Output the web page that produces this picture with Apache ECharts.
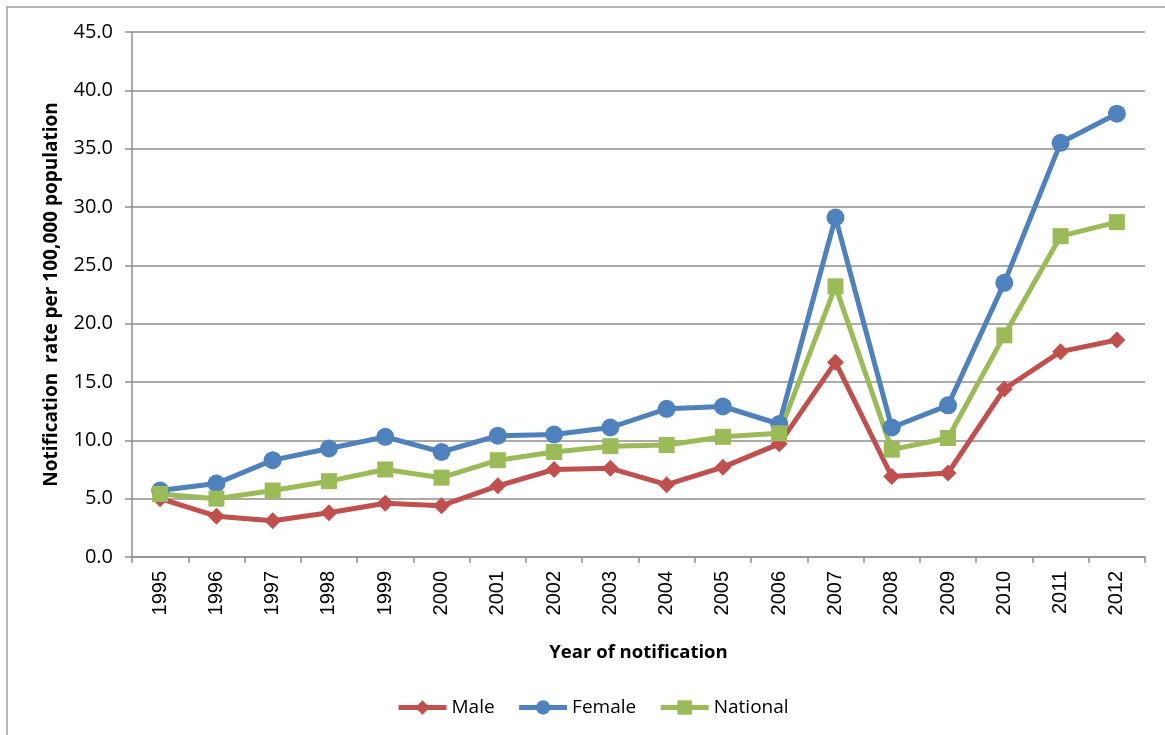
<!DOCTYPE html>
<html>
<head>
<meta charset="utf-8">
<script src="https://cdn.jsdelivr.net/npm/echarts@6/dist/echarts.min.js"></script>
<style>
  html, body { margin: 0; padding: 0; background: #ffffff; }
  #chart { width: 1165px; height: 735px; }
</style>
</head>
<body>
<div id="chart"></div>
<script>
// Notification rates per 100,000 population, by year and sex
const years = ['1995', '1996', '1997', '1998', '1999', '2000', '2001', '2002', '2003',
               '2004', '2005', '2006', '2007', '2008', '2009', '2010', '2011', '2012'];
const male = [5.0, 3.5, 3.1, 3.8, 4.6, 4.4, 6.1, 7.5, 7.6, 6.2, 7.7, 9.7, 16.7, 6.9, 7.2, 14.4, 17.6, 18.6];
const female = [5.7, 6.3, 8.3, 9.3, 10.3, 9.0, 10.4, 10.5, 11.1, 12.7, 12.9, 11.4, 29.1, 11.1, 13.0, 23.5, 35.5, 38.0];
const national = [5.4, 5.0, 5.7, 6.5, 7.5, 6.8, 8.3, 9.0, 9.5, 9.6, 10.3, 10.6, 23.2, 9.2, 10.2, 19.0, 27.5, 28.7];

const gridGray = '#8e8e8e';
const textFont = 'Open Sans';

function lineSeries(name, data, color, symbol, size) {
  return {
    name: name,
    type: 'line',
    data: data,
    symbol: symbol,
    symbolSize: size,
    lineStyle: { color: color, width: 5 },
    itemStyle: { color: color },
    emphasis: { disabled: true },
    animation: false
  };
}

const chart = echarts.init(document.getElementById('chart'), null, { renderer: 'canvas' });
chart.setOption({
  backgroundColor: '#ffffff',
  animation: false,
  graphic: [{
    type: 'rect',
    shape: { x: 7, y: 7, width: 1200, height: 800 },
    style: { fill: 'none', stroke: '#b4b4b4', lineWidth: 2 },
    silent: true
  }],
  grid: { left: 132, right: 20, top: 32, bottom: 178 },
  legend: {
    left: 391,
    top: 693,
    itemWidth: 48,
    itemHeight: 18,
    itemGap: 22,
    lineStyle: { width: 5 },
    textStyle: { fontFamily: textFont, fontSize: 19, color: '#000000' },
    data: ['Male', 'Female', 'National']
  },
  xAxis: {
    type: 'category',
    data: years,
    boundaryGap: true,
    name: 'Year of notification',
    nameLocation: 'middle',
    nameGap: 86,
    nameTextStyle: { fontFamily: textFont, fontWeight: 'bold', fontSize: 18.5, color: '#000000' },
    axisLine: { lineStyle: { color: gridGray, width: 1.5 } },
    axisTick: { show: true, length: 6, lineStyle: { color: gridGray, width: 1.5 } },
    axisLabel: {
      rotate: 90,
      margin: 14,
      fontFamily: 'Liberation Sans',
      fontSize: 20,
      color: '#000000'
    }
  },
  yAxis: {
    type: 'value',
    min: 0,
    max: 45,
    interval: 5,
    name: 'Notification  rate per 100,000 population',
    nameLocation: 'middle',
    nameRotate: 90,
    nameGap: 71,
    nameTextStyle: { fontFamily: textFont, fontWeight: 'bold', fontSize: 19, color: '#000000' },
    axisLine: { show: true, lineStyle: { color: gridGray, width: 1.5 } },
    axisTick: { show: true, length: 7, lineStyle: { color: gridGray, width: 1.5 } },
    splitLine: { lineStyle: { color: gridGray, width: 1.5 } },
    axisLabel: {
      margin: 19,
      fontFamily: textFont,
      fontSize: 20,
      color: '#000000',
      formatter: v => v.toFixed(1)
    }
  },
  series: [
    lineSeries('Male', male, '#C0504D', 'diamond', 17),
    lineSeries('Female', female, '#4F81BD', 'circle', 18),
    lineSeries('National', national, '#9BBB59', 'rect', 16)
  ]
});
</script>
</body>
</html>
